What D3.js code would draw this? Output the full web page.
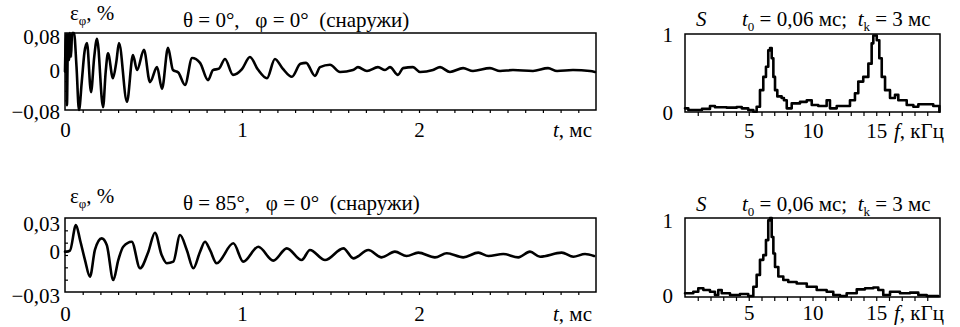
<!DOCTYPE html>
<html><head><meta charset="utf-8">
<script src="https://cdn.jsdelivr.net/npm/d3@7"></script>
<style>
body{margin:0;background:#fff;}
svg text{fill:#000;white-space:pre;font-family:"Liberation Serif";}
</style></head>
<body>
<script>
// ---------- DATA ----------
// top time signal: θ = 0°
const t1 = [0,0.006,0.011,0.017,0.023,0.028,0.034,0.040,0.051,0.065,0.079,0.095,0.110,0.124,0.147,0.165,0.181,0.215,0.230,0.243,0.271,0.290,0.305,0.350,0.384,0.407,0.446,0.480,0.520,0.548,0.582,0.610,0.640,0.678,0.718,0.763,0.808,0.836,0.870,0.904,0.949,1.000,1.045,1.090,1.141,1.186,1.230,1.282,1.330,1.362,1.412,1.441,1.497,1.554,1.627,1.655,1.706,1.768,1.808,1.836,1.881,1.910,1.966,2.006,2.079,2.119,2.175,2.249,2.305,2.401,2.458,2.531,2.644,2.729,2.780,2.870,2.966,2.994];
const v1 = [0,0.078,-0.070,0.078,0.024,0.080,0.030,0.080,0.080,0.010,-0.080,-0.020,0.040,0.059,-0.043,0.030,0.068,-0.074,0.000,0.038,-0.014,0.020,0.059,-0.063,0.034,0.003,0.045,-0.022,0.009,-0.036,0.049,0.003,-0.002,-0.028,0.028,0.018,-0.018,0.003,0.006,0.026,-0.007,0.005,0.030,0.004,-0.014,0.026,0.006,-0.011,0.016,0.018,-0.009,0.009,0.014,-0.001,0.003,0.009,0.001,0.009,0.003,0.009,-0.007,0.007,0.009,-0.001,0.003,0.009,-0.001,0.007,0.001,0.007,0.001,0.003,0.001,0.007,0.001,0.003,0.001,-0.001];
// bottom time signal: θ = 85°
const t2 = [0,0.010,0.028,0.062,0.085,0.113,0.141,0.169,0.207,0.236,0.273,0.301,0.329,0.377,0.424,0.471,0.508,0.546,0.575,0.612,0.650,0.688,0.725,0.763,0.791,0.819,0.857,0.951,1.007,1.092,1.177,1.253,1.337,1.384,1.469,1.573,1.629,1.714,1.789,1.864,1.930,1.996,2.090,2.157,2.250,2.335,2.392,2.476,2.561,2.627,2.684,2.806,2.872,2.938,2.989];
const v2 = [0.0027,0.0027,0.0035,0.0243,0.0122,-0.0041,-0.0176,0.0041,0.0135,0.0081,-0.0203,-0.0041,0.0067,0.0108,-0.0108,0.0027,0.0181,0,-0.0067,-0.0054,0.0162,0.0041,-0.0108,0.0027,0.0108,0.0041,-0.0067,0.0095,-0.0054,0.0067,-0.0046,0.0054,-0.0041,0.0041,-0.0041,0.0054,-0.0027,0.0041,-0.0019,0.0027,-0.0008,0.0019,-0.0019,0.0014,-0.0019,0.0019,-0.0008,0.0008,-0.0019,0.0027,-0.0014,0.0019,-0.0014,0.0008,-0.0008];
// top spectrum
const f1 = [0,0.26,0.78,1.33,1.96,2.35,3.27,4.05,4.45,4.96,5.36,5.62,5.88,6.14,6.35,6.53,6.67,6.80,6.93,7.06,7.24,7.58,7.76,7.98,8.37,9.02,9.55,9.94,10.45,11.11,11.37,11.90,12.94,13.33,13.59,13.98,14.38,14.64,14.77,15.04,15.24,15.43,15.69,16.08,16.47,16.73,17.39,17.91,18.30,18.96,19.47,19.95];
const s1 = [0.047,0.026,0.026,0.04,0.077,0.06,0.056,0.064,0.047,0.026,0.004,0.068,0.28,0.45,0.58,0.79,0.82,0.69,0.45,0.28,0.20,0.18,0.15,0.047,0.11,0.13,0.15,0.09,0.077,0.15,0.047,0.077,0.15,0.24,0.39,0.45,0.62,0.88,0.98,0.92,0.69,0.45,0.28,0.18,0.22,0.15,0.09,0.068,0.10,0.10,0.077,0.004];
// bottom spectrum
const f2 = [0,0.65,1.04,1.44,1.96,2.35,2.61,2.88,3.53,4.31,4.96,5.36,5.62,5.88,6.14,6.35,6.53,6.67,6.80,6.93,7.06,7.32,7.71,8.10,8.76,9.55,10.33,11.11,11.63,12.16,12.68,13.47,14.12,14.77,15.16,15.55,16.08,16.86,17.65,18.30,18.96,19.87];
const s2 = [0.047,0.067,0.11,0.089,0.067,0.025,0.089,0.047,0.025,0.038,0.013,0.13,0.28,0.47,0.53,0.72,0.97,1.0,0.76,0.55,0.38,0.26,0.215,0.19,0.17,0.13,0.089,0.067,0.025,0.013,0.047,0.097,0.11,0.12,0.089,0.025,0.067,0.047,0.055,0.025,0.013,0.013];

const tLabels = [0,1,2];
const fLabels = [5,10,15];

// ---------- DRAW ----------
const FONT = "Liberation Serif";
const svg = d3.select("body").append("svg").attr("width",960).attr("height",327)
  .style("display","block").attr("font-family",FONT);
const FS = 21;

function frame(x, y){
  const [x0,x1] = x.range(), [y0,y1] = y.range();
  svg.append("rect").attr("x",x0).attr("y",y1).attr("width",x1-x0).attr("height",y0-y1)
    .attr("fill","none").attr("stroke","#000").attr("stroke-width",1.5);
}
function line(x,y,xs,ys,curve){
  svg.append("path").datum(xs.map((d,i)=>[d,ys[i]]))
    .attr("d",d3.line().curve(curve||d3.curveLinear).x(d=>x(d[0])).y(d=>y(d[1])))
    .attr("fill","none").attr("stroke","#000").attr("stroke-width",2.6)
    .attr("stroke-linejoin","round").attr("stroke-linecap","round");
}
function minorX(x,y,vals,len){
  const g = svg.append("g").attr("transform",`translate(0,${y.range()[0]})`)
    .call(d3.axisBottom(x).tickValues(vals).tickSize(len).tickFormat(""));
  g.select(".domain").remove();
  g.selectAll("line").attr("stroke","#000").attr("stroke-width",1.2);
}
function minorY(x,y,vals,len){
  const g = svg.append("g").attr("transform",`translate(${x.range()[0]},0)`)
    .call(d3.axisRight(y).tickValues(vals).tickSize(len).tickFormat(""));
  g.select(".domain").remove();
  g.selectAll("line").attr("stroke","#000").attr("stroke-width",1.2);
}
function xLabels(x, vals, baseline){
  const g = svg.append("g").call(d3.axisBottom(x).tickValues(vals).tickSize(0).tickFormat(d3.format("d")));
  g.attr("font-family",FONT);
  g.select(".domain").remove();
  g.selectAll("text").attr("y",baseline).attr("dy",0).attr("font-size",FS)
    .attr("font-family",FONT).attr("fill","#000");
}
function yLabels(xEnd, y, vals, offsets, fmt){
  const g = svg.append("g").attr("transform",`translate(${xEnd},0)`)
    .call(d3.axisLeft(y).tickValues(vals).tickSize(0).tickPadding(0).tickFormat(fmt));
  g.attr("font-family",FONT);
  g.select(".domain").remove();
  g.selectAll("text").attr("dy",(d,i)=>offsets[i]).attr("font-size",FS)
    .attr("font-family",FONT).attr("fill","#000");
}
const ruFmt = d => d===0 ? "0" : (d<0?"\u2212":"") + Math.abs(d).toFixed(2).replace(".",",");

function text(x,y,parts,anchor){
  const t = svg.append("text").attr("x",x).attr("y",y).attr("font-size",FS)
    .attr("font-family",FONT).attr("text-anchor",anchor||"start");
  parts.forEach(p=>{
    const s = t.append("tspan").text(p.t);
    if(p.i) s.attr("font-style","italic");
    if(p.fs) s.attr("font-size",p.fs);
    if(p.dy) s.attr("dy",p.dy);
  });
  return t;
}

// ---- time charts ----
function timeChart(top, bottom, yDom, ts, vs, yTickVals, yMinor, title, yBase, tLabBase, titleBase, epsBase){
  const x = d3.scaleLinear().domain([0,3]).range([65,596]);
  const y = d3.scaleLinear().domain(yDom).range([bottom, top]);
  minorX(x,y,d3.range(1,30).map(i=>i/10),3);
  minorY(x,y,yMinor,3);
  frame(x,y);
  line(x,y,ts,vs,d3.curveMonotoneX);
  yLabels(60, y, yTickVals, yBase, ruFmt);
  xLabels(x, tLabels, tLabBase);
  text(553, tLabBase, [{t:"t",i:1},{t:", мс"}]);
  text(70, epsBase, [{t:"ε"},{t:"φ",fs:13,dy:5},{t:", %",dy:-5}]);
  text(183, titleBase, [{t:title}]);
}
timeChart(33,110,[-0.08,0.08],t1,v1,[-0.08,0,0.08],[-0.06,-0.04,-0.02,0,0.02,0.04,0.06],
  "θ = 0°,   φ = 0°  (снаружи)",[8,6,10],137,27,20);
timeChart(218,292,[-0.03,0.03],t2,v2,[-0.03,0,0.03],[-0.02,-0.01,0,0.01,0.02],
  "θ = 85°,   φ = 0°  (снаружи)",[10,3,12],321,210,203);

// ---- spectra ----
function specChart(top,bottom,fs,ss,sBase,fBase,labBase){
  const x = d3.scaleLinear().domain([0,20]).range([685,940]);
  const y = d3.scaleLinear().domain([0,1]).range([bottom,top]);
  minorX(x,y,d3.range(1,20),4);
  frame(x,y);
  line(x,y,fs,ss,d3.curveStepAfter);
  yLabels(673, y, [0,1], sBase, d3.format("d"));
  xLabels(x, fLabels, fBase);
  text(894, fBase, [{t:"f",i:1},{t:", кГц"}]);
  text(696, labBase, [{t:"S",i:1}]);
  text(742, labBase, [{t:"t",i:1},{t:"0",fs:13,dy:5},{t:" = 0,06 мс;  ",dy:-5},{t:"t",i:1},{t:"k",fs:13,dy:5},{t:" = 3 мс",dy:-5}]);
}
specChart(34,112,f1,s1,[7,7],138,26);
specChart(218,297,f2,s2,[5,9],320,211);
</script>
</body></html>
